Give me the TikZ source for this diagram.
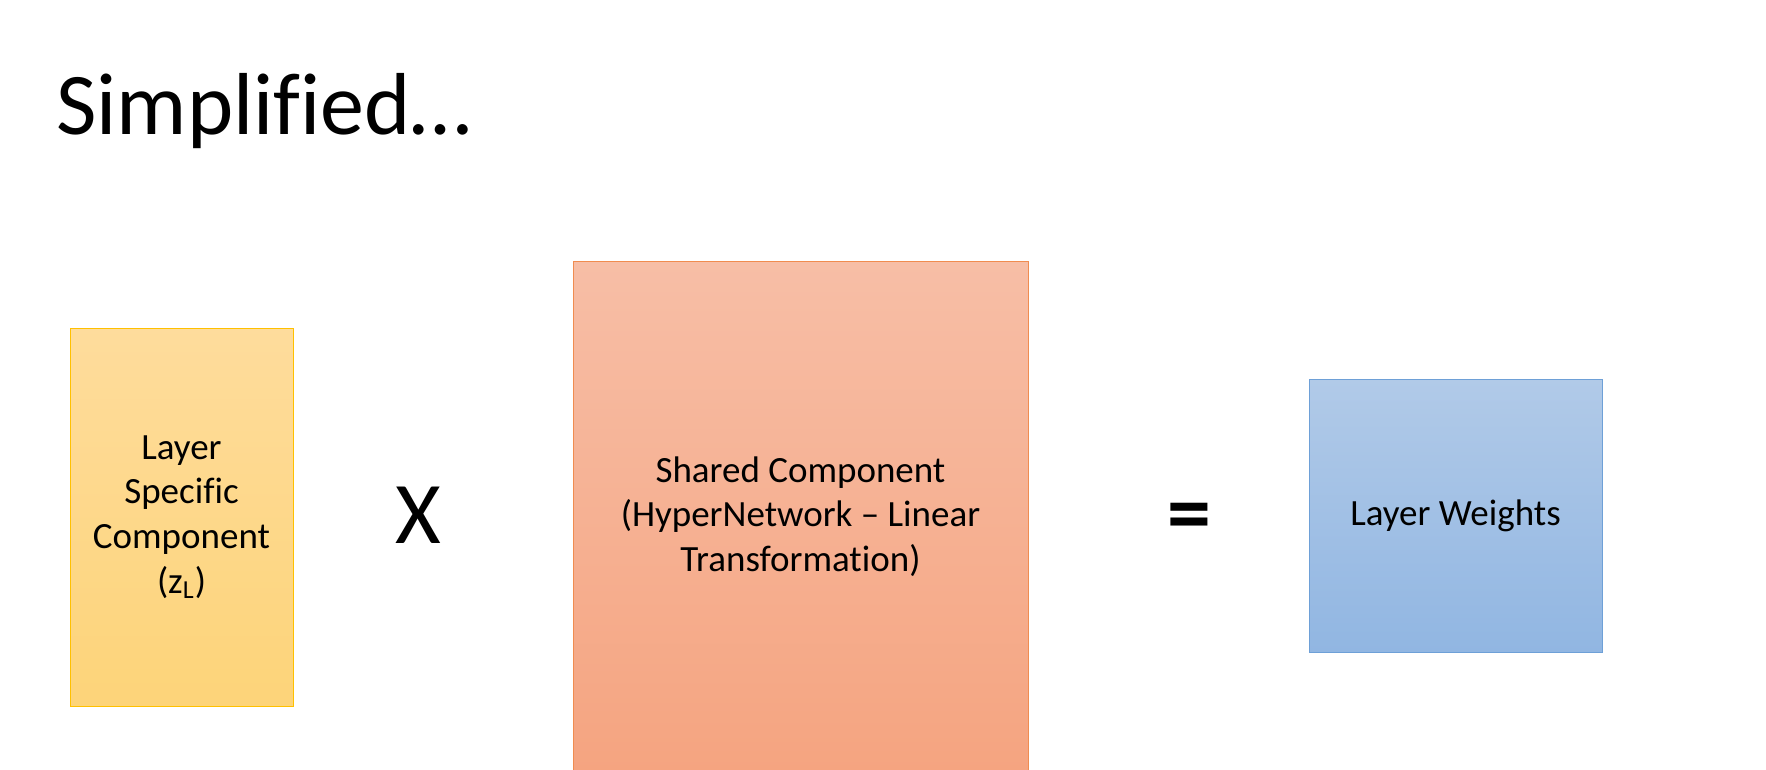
\documentclass[tikz,border=0pt]{standalone}
\usepackage{fontspec}
\setmainfont{Carlito}[Ligatures=NoCommon]
\usepackage{xcolor}
\usepackage{tikz}
\usetikzlibrary{positioning}
\definecolor{yellowtop}{RGB}{254,220,156}
\definecolor{yellowbot}{RGB}{253,212,121}
\definecolor{yellowline}{RGB}{255,192,0}
\definecolor{salmontop}{RGB}{247,190,166}
\definecolor{salmonbot}{RGB}{245,164,128}
\definecolor{salmonline}{RGB}{240,140,80}
\definecolor{bluetop}{RGB}{177,202,232}
\definecolor{bluebot}{RGB}{145,182,226}
\definecolor{blueline}{RGB}{110,160,215}
\tikzset{
    component/.style={
        rectangle,
        line width=0.5pt,
        inner sep=0pt,
        align=center,
        font=\fontsize{18.5}{22.3}\selectfont
    },
    specific/.style={
        component,
        draw=yellowline,
        top color=yellowtop,
        bottom color=yellowbot,
        minimum width=111.5pt,
        minimum height=189pt
    },
    shared/.style={
        component,
        draw=salmonline,
        top color=salmontop,
        bottom color=salmonbot,
        minimum width=227.5pt,
        minimum height=254.5pt
    },
    weights/.style={
        component,
        draw=blueline,
        top color=bluetop,
        bottom color=bluebot,
        minimum width=146.5pt,
        minimum height=136.5pt
    },
    opsign/.style={
        inner sep=0pt,
        font=\fontsize{44}{48}\selectfont
    }
}
\begin{document}
\begin{tikzpicture}[x=0.5pt, y=-0.5pt]
\useasboundingbox (0,0) rectangle (1766,770);

% Title
\node[anchor=base west, inner sep=0pt, font=\fontsize{44}{48}\selectfont] (title) at (56,135) {Simplified…};

% Components
\node[specific] (layer_spec) at (181.5,517) {Layer\\Specific\\Component\\(z\textsubscript{L})};
\node[shared] (shared_comp) at (800.5,516.5) {Shared Component\\(HyperNetwork -- Linear\\Transformation)};
\node[weights] (layer_w) at (1455.5,515.5) {Layer Weights};

% Operators
\node[opsign] (times) at (418,515) {X};
\node[opsign, font=\fontsize{44}{48}\selectfont\bfseries] (equals) at (1189,523) {=};

\end{tikzpicture}
\end{document}
